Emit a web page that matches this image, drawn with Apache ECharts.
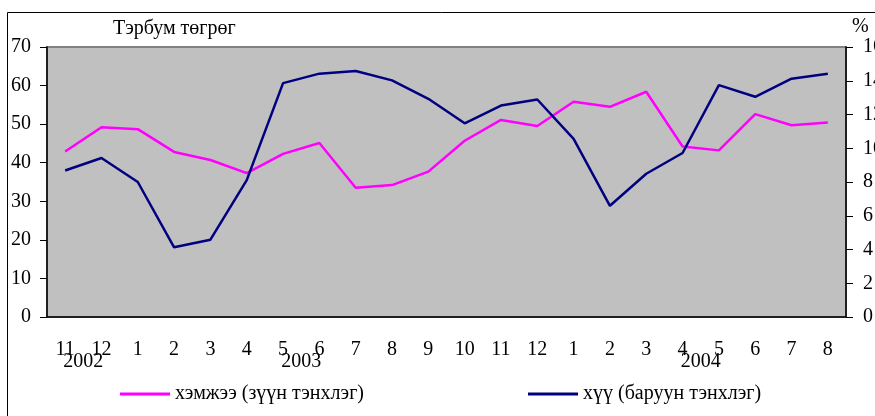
<!DOCTYPE html>
<html>
<head>
<meta charset="utf-8">
<script src="https://cdn.jsdelivr.net/npm/echarts@6/dist/echarts.min.js"></script>
<style>
  html, body { margin: 0; padding: 0; background: #fff; }
  #chart { width: 875px; height: 416px; }
</style>
</head>
<body>
<div id="chart"></div>
<script>
// months Nov 2002 .. Aug 2004
const months = ['11', '12', '1', '2', '3', '4', '5', '6', '7', '8', '9', '10', '11', '12',
                '1', '2', '3', '4', '5', '6', '7', '8'];
// year label sits on the boundary before this category index
const yearMarks = { 1: '2002', 7: '2003', 18: '2004' };

const amountName = 'хэмжээ (зүүн тэнхлэг)';
const rateName = 'хүү (баруун тэнхлэг)';

// billion tugrug, left axis
const amount = [42.9, 49.2, 48.7, 42.8, 40.7, 37.3, 42.3, 45.1, 33.5, 34.2, 37.7,
                45.7, 51.1, 49.5, 55.8, 54.5, 58.4, 44.2, 43.2, 52.6, 49.7, 50.4];
// percent, right axis
const rate = [8.68, 9.42, 8.0, 4.13, 4.58, 8.11, 13.86, 14.42, 14.58, 14.02, 12.93,
              11.48, 12.53, 12.89, 10.55, 6.59, 8.49, 9.72, 13.74, 13.05, 14.12, 14.42];

const leftTicks = [0, 70, 10];
const rightTicks = [0, 16, 2];

const font = 'Liberation Serif, Times New Roman, serif';
const txt = { fontFamily: font, fontSize: 20, color: '#000' };

const chart = echarts.init(document.getElementById('chart'));

chart.setOption({
  animation: false,
  backgroundColor: '#fff',
  textStyle: txt,
  grid: {
    left: 47, right: 29, top: 47, bottom: 99,
    outerBoundsMode: 'none',
    show: true, backgroundColor: '#C0C0C0', borderColor: '#808080', borderWidth: 2
  },
  graphic: [{
    type: 'rect',
    shape: { x: 7.5, y: 12.5, width: 900, height: 450 },
    style: { fill: 'none', stroke: '#000', lineWidth: 1 },
    z: -1
  }],
  legend: [
    {
      data: [amountName], left: 115, top: 379, icon: 'rect',
      itemWidth: 50, itemHeight: 3, itemGap: 0, textStyle: txt
    },
    {
      data: [rateName], left: 523, top: 379, icon: 'rect',
      itemWidth: 50, itemHeight: 3, itemGap: 0, textStyle: txt
    }
  ],
  xAxis: [
    {
      type: 'category',
      data: months,
      boundaryGap: true,
      axisLine: { lineStyle: { color: '#000', width: 1.5 } },
      axisTick: { length: 7, lineStyle: { color: '#000' } },
      axisLabel: { ...txt, margin: 23, interval: 0 },
      splitLine: { show: false }
    },
    {
      // inner half of the crossing ticks
      type: 'category',
      data: months,
      position: 'bottom',
      axisLine: { show: false },
      axisTick: { inside: true, length: 7, lineStyle: { color: '#000' } },
      axisLabel: { show: false }
    },
    {
      // year labels between months
      type: 'value',
      min: 0, max: months.length, interval: 1,
      position: 'bottom',
      axisLine: { show: false },
      axisTick: { show: false },
      splitLine: { show: false },
      axisLabel: {
        ...txt, margin: 35, showMinLabel: true, showMaxLabel: true,
        formatter: v => yearMarks[v] || ''
      }
    }
  ],
  yAxis: [
    {
      type: 'value',
      min: leftTicks[0], max: leftTicks[1], interval: leftTicks[2],
      name: 'Тэрбум төгрөг',
      nameLocation: 'end',
      nameGap: 8,
      nameTextStyle: { ...txt, align: 'left', padding: [0, 0, 0, 66] },
      axisLine: { show: true, lineStyle: { color: '#000', width: 1.5 } },
      axisTick: { show: true, length: 7, lineStyle: { color: '#000' } },
      axisLabel: { ...txt, margin: 16 },
      splitLine: { show: false }
    },
    {
      type: 'value',
      position: 'right',
      min: rightTicks[0], max: rightTicks[1], interval: rightTicks[2],
      name: '%',
      nameLocation: 'end',
      nameGap: 10,
      nameTextStyle: { ...txt, align: 'left', padding: [0, 0, 0, 6] },
      axisLine: { show: true, lineStyle: { color: '#000', width: 1.5 } },
      axisTick: { show: true, length: 7, lineStyle: { color: '#000' } },
      axisLabel: { ...txt, margin: 17 },
      splitLine: { show: false }
    }
  ],
  series: [
    {
      name: amountName,
      type: 'line',
      data: amount,
      xAxisIndex: 0, yAxisIndex: 0,
      symbol: 'none',
      color: '#FF00FF',
      lineStyle: { color: '#FF00FF', width: 2.5 }
    },
    {
      name: rateName,
      type: 'line',
      data: rate,
      xAxisIndex: 0, yAxisIndex: 1,
      symbol: 'none',
      color: '#000080',
      lineStyle: { color: '#000080', width: 2.5 }
    }
  ]
});
</script>
</body>
</html>
